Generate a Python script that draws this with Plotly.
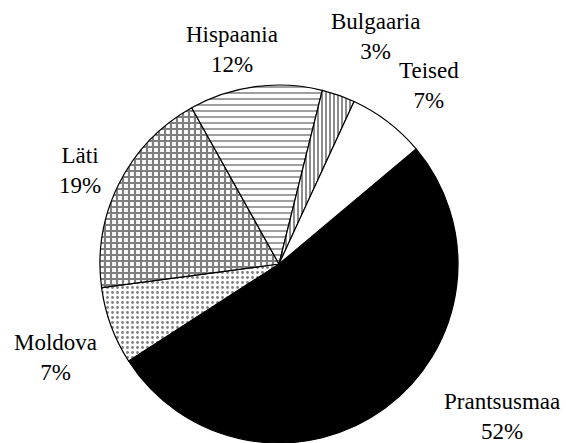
import plotly.graph_objects as go

# Data
countries = ["Prantsusmaa", "Moldova", "Läti", "Hispaania", "Bulgaaria", "Teised"]
shares = [52, 7, 19, 12, 3, 7]

# Styles (per slice)
fill_colors = ["black", "white", "white", "white", "white", "white"]
pattern_shapes = ["", ".", "+", "-", "|", ""]
pattern_sizes = [6, 5, 6, 6, 4, 6]
pattern_solidity = [0.3, 0.25, 0.6, 0.25, 0.45, 0.3]

# Label positions in pixels (x, y-center) of the 566x443 canvas
label_px = [(502, 416), (55, 357), (80, 170), (232, 50), (376, 36), (429, 85)]

W, H = 566, 443
FONT = "Liberation Serif, Times New Roman, serif"

fig = go.Figure(
    go.Pie(
        labels=countries,
        values=shares,
        sort=False,
        direction="clockwise",
        rotation=50,
        textinfo="none",
        hoverinfo="label+percent",
        marker=dict(
            colors=fill_colors,
            line=dict(color="black", width=1.2),
            pattern=dict(
                shape=pattern_shapes,
                fgcolor="black",
                bgcolor="white",
                size=pattern_sizes,
                solidity=pattern_solidity,
                fillmode="overlay",
            ),
        ),
        domain=dict(x=[96 / W, 462 / W], y=[0, 358 / H]),
        showlegend=False,
    )
)

annotations = []
for name, val, (px, py) in zip(countries, shares, label_px):
    annotations.append(
        dict(
            text=f"{name}<br>{val}%",
            x=px / W,
            y=1 - py / H,
            xref="paper",
            yref="paper",
            xanchor="center",
            yanchor="middle",
            align="center",
            showarrow=False,
            font=dict(family=FONT, size=23, color="black"),
        )
    )

fig.update_layout(
    width=W,
    height=H,
    margin=dict(l=0, r=0, t=0, b=0),
    paper_bgcolor="white",
    plot_bgcolor="white",
    annotations=annotations,
    font=dict(family=FONT, size=23, color="black"),
)

fig.write_html(
    "out.html",
    config={"displayModeBar": False},
    post_script="document.body.style.margin='0';document.body.style.overflow='hidden';",
)
